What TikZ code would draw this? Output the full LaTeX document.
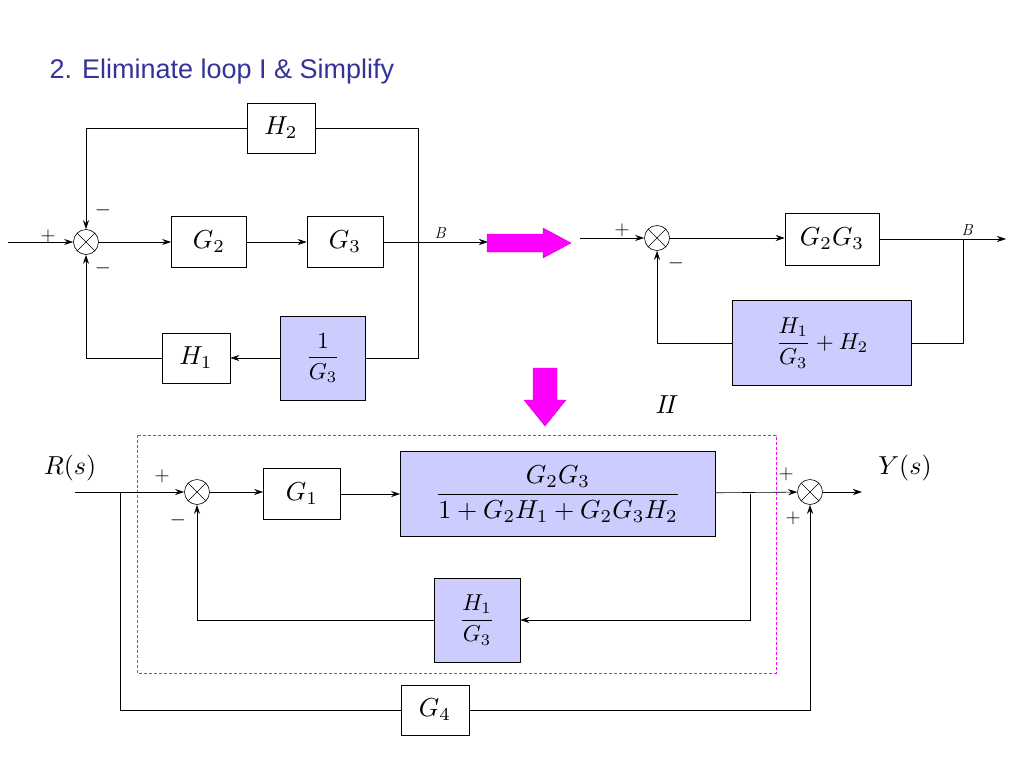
\documentclass[tikz,border=0pt]{standalone}
\usepackage{amsmath,graphicx}
\usepackage{fontspec}
\newfontfamily\ttl{Liberation Sans}
\usetikzlibrary{arrows.meta}
\newcommand\bx[1]{\scalebox{2.6}{#1}}
\newcommand\bxs[1]{\scalebox{2.3}{#1}}
\begin{document}
\begin{tikzpicture}[x=1pt,y=-1pt,
  blk/.style={draw,semithick,inner sep=0pt},
  fblk/.style={blk,fill=lav},
  sj/.style={draw,semithick,circle,minimum size=25pt,inner sep=0pt,path picture={\draw (path picture bounding box.north west)--(path picture bounding box.south east) (path picture bounding box.north east)--(path picture bounding box.south west);}},
  ln/.style={semithick},
  ar/.style={semithick,-{Stealth[length=9pt,width=6pt]}},
  sg/.style={font=\fontsize{20}{20}\selectfont},
  lb/.style={font=\fontsize{16}{16}\selectfont\itshape},
  pka/.style={fill=pk,draw=pk!80!black}]
\definecolor{lav}{HTML}{CCCCFF}
\definecolor{ttc}{HTML}{333399}
\definecolor{pk}{HTML}{FF00FF}
\useasboundingbox (0,0) rectangle (1024,768);
\node[anchor=west,text=ttc,font=\ttl\fontsize{27}{30}\selectfont] (title) at (46,72) {2. Eliminate loop I \& Simplify};
% top-left
\node[sj] (s1) at (86,242) {};
\node[blk,minimum width=75pt,minimum height=51pt] (g2) at (209,242) {\bx{$G_2$}};
\node[blk,minimum width=76pt,minimum height=51pt] (g3) at (345,242) {\bx{$G_3$}};
\node[blk,minimum width=68pt,minimum height=50pt] (h2) at (281,128) {\bx{$H_2$}};
\node[fblk,minimum width=85pt,minimum height=84pt] (ig3) at (323,358) {\bxs{$\dfrac{1}{G_3}$}};
\node[blk,minimum width=68pt,minimum height=50pt] (h1) at (196,358) {\bx{$H_1$}};
\coordinate (in1) at (8,242);
\coordinate (b1) at (418,242);
\coordinate (e1) at (488,242);
\draw[ar] (in1) -- (s1);
\draw[ar] (s1) -- (g2);
\draw[ar] (g2) -- (g3);
\draw[ar] (g3) -- (e1);
\draw[ln] (b1) |- (h2);
\draw[ar] (h2) -| (s1);
\draw[ln] (b1) |- (ig3);
\draw[ar] (ig3) -- (h1);
\draw[ar] (h1) -| (s1);
\node[sg] (p1) at (48,236) {$+$};
\node[sg] (m1) at (103,210) {$-$};
\node[sg] (m2) at (103,268) {$-$};
\node[lb] (lb1) at (440,233) {B};
\path[pka] (487,234) -- (543,234) -- (543,228) -- (571,243) -- (543,258) -- (543,252) -- (487,252) -- cycle;
% top-right
\node[sj] (s2) at (657,238) {};
\node[blk,minimum width=94pt,minimum height=52pt] (g23) at (832,239) {\bx{$G_2G_3$}};
\node[fblk,minimum width=179pt,minimum height=85pt] (hh) at (822,343) {\bxs{$\dfrac{H_1}{G_3}+H_2$}};
\coordinate (in2) at (580,238);
\coordinate (b2) at (963,239);
\coordinate (o2) at (1006,239);
\draw[ar] (in2) -- (s2);
\draw[ar] (s2) -- (g23.west|-s2);
\draw[ar] (g23) -- (o2);
\draw[ln] (b2) |- (hh);
\draw[ar] (hh) -| (s2);
\node[sg] (p2) at (622,230) {$+$};
\node[sg] (m3) at (676,263) {$-$};
\node[lb] (lb2) at (967,230) {B};
\path[pka] (533,368) -- (557,368) -- (557,400) -- (566,400) -- (545,426) -- (524,400) -- (533,400) -- cycle;
\node (ii) at (667,405) {\bx{$I\!I$}};
% bottom
\draw[pk,dash pattern=on 3pt off 2pt,line width=0.8pt] (137,435) rectangle (776,673);
\node (r) at (70,468) {\bx{$R(s)$}};
\node (y) at (905,468) {\bx{$Y(s)$}};
\node[sj] (s3) at (197,492) {};
\node[sj] (s4) at (810,492) {};
\node[blk,minimum width=77pt,minimum height=51pt] (g1) at (302,494) {\bx{$G_1$}};
\node[fblk,minimum width=315pt,minimum height=85pt] (big) at (558,494) {\bx{$\dfrac{G_2G_3}{1+G_2H_1+G_2G_3H_2}$}};
\node[fblk,minimum width=86pt,minimum height=84pt] (hg) at (477,620) {\bxs{$\dfrac{H_1}{G_3}$}};
\node[blk,minimum width=68pt,minimum height=50pt] (g4) at (435,710) {\bx{$G_4$}};
\coordinate (in3) at (75,492);
\coordinate (b3) at (120,492);
\coordinate (b4) at (750,494);
\coordinate (o3) at (862,492);
\draw[ar] (in3) -- (s3);
\draw[ar] (s3) -- (g1.west|-s3);
\draw[ar] (g1) -- (big);
\draw[ar] (big) -- (s4);
\draw[ar] (s4) -- (o3);
\draw[ar] (b4) |- (hg.east);
\draw[ar] (hg.west) -| (s3);
\draw[ln] (b3) |- (g4);
\draw[ar] (g4) -| (s4);
\node[sg] (p3) at (162,476) {$+$};
\node[sg] (m4) at (178,520) {$-$};
\node[sg] (p4) at (786,474) {$+$};
\node[sg] (p5) at (793,518) {$+$};
\end{tikzpicture}
\end{document}
